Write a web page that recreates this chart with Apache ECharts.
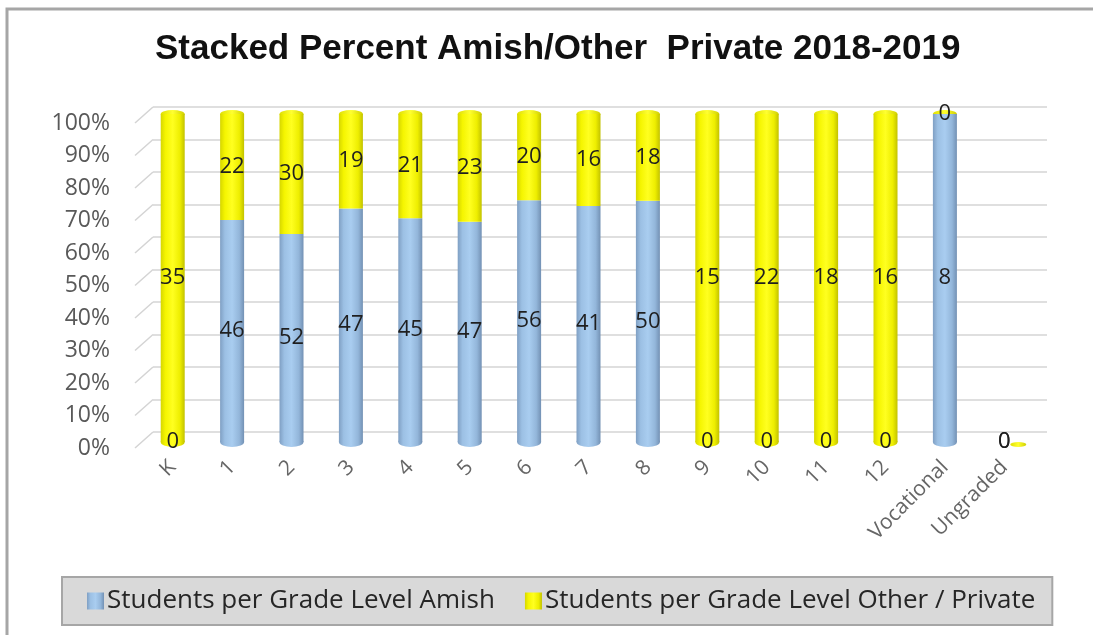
<!DOCTYPE html>
<html>
<head>
<meta charset="utf-8">
<script src="https://cdn.jsdelivr.net/npm/echarts@6/dist/echarts.min.js"></script>
<style>
  html, body { margin: 0; padding: 0; background: #fff; }
  #chart { width: 1093px; height: 635px; }
</style>
</head>
<body>
<div id="chart"></div>
<script>
// grade levels and head counts
const categories = ['K', '1', '2', '3', '4', '5', '6', '7', '8', '9', '10', '11', '12', 'Vocational', 'Ungraded'];
const amish = [0, 46, 52, 47, 45, 47, 56, 41, 50, 0, 0, 0, 0, 8, 0];
const other = [35, 22, 30, 19, 21, 23, 20, 16, 18, 15, 22, 18, 16, 0, 0];
const yTicks = [0, 10, 20, 30, 40, 50, 60, 70, 80, 90, 100];
const seriesNames = ['Students per Grade Level Amish', 'Students per Grade Level Other / Private'];

// stacked percent
const totals = amish.map((v, i) => v + other[i]);
const amishPct = amish.map((v, i) => totals[i] ? v / totals[i] * 100 : 0);
const otherPct = other.map((v, i) => totals[i] ? v / totals[i] * 100 : 0);
const capTop = totals.map(t => t ? 100 : 0);

const blueGrad = new echarts.graphic.LinearGradient(0, 0, 1, 0, [
  {offset: 0, color: '#7f9fc3'},
  {offset: 0.2, color: '#9cc0e4'},
  {offset: 0.5, color: '#a9cdf0'},
  {offset: 0.8, color: '#93b6da'},
  {offset: 1, color: '#7391b4'}
]);
const yellowGrad = new echarts.graphic.LinearGradient(0, 0, 1, 0, [
  {offset: 0, color: '#d6d600'},
  {offset: 0.2, color: '#f5f500'},
  {offset: 0.5, color: '#ffff20'},
  {offset: 0.8, color: '#eeee00'},
  {offset: 1, color: '#c2c200'}
]);
const capGrad = new echarts.graphic.LinearGradient(0, 0, 1, 0, [
  {offset: 0, color: '#e0e000'},
  {offset: 0.5, color: '#ffff30'},
  {offset: 1, color: '#d0d000'}
]);

const labelStyle = {
  show: true,
  position: 'inside',
  fontFamily: 'Open Sans',
  fontSize: 22,
  color: '#1f1f1f'
};

const chart = echarts.init(document.getElementById('chart'));

const option = {
  animation: false,
  backgroundColor: '#fff',
  title: {
    text: 'Stacked Percent Amish/Other  Private 2018-2019',
    left: 150,
    top: 27,
    textStyle: {
      fontFamily: 'Liberation Sans',
      fontWeight: 'bold',
      fontSize: 35,
      color: '#111'
    }
  },
  legend: {
    data: seriesNames,
    left: 62,
    top: 577,
    padding: [11, 17, 11, 25],
    itemGap: 30,
    itemWidth: 17,
    itemHeight: 17,
    icon: 'rect',
    backgroundColor: '#d9d9d9',
    borderColor: '#a6a6a6',
    borderWidth: 2,
    textStyle: {fontFamily: 'Open Sans', fontSize: 26, color: '#262626', padding: [0, 0, 0, -2]}
  },
  grid: [
    {left: 143, right: 59, top: 114, bottom: 193},
    {left: 153, right: 46, top: 107, bottom: 203},
    {left: 133, right: 59, top: 123, bottom: 187}
  ],
  xAxis: [
    {
      gridIndex: 0,
      type: 'category',
      data: categories,
      axisLine: {show: false},
      axisTick: {show: false},
      axisLabel: {
        rotate: 45,
        margin: 22,
        interval: 0,
        fontFamily: 'Open Sans',
        fontSize: 21,
        color: '#666'
      }
    },
    {gridIndex: 1, type: 'category', data: categories, show: false},
    {gridIndex: 2, type: 'category', data: categories, show: false}
  ],
  yAxis: [
    {gridIndex: 0, type: 'value', min: 0, max: 100, show: false},
    {
      gridIndex: 1, type: 'value', min: 0, max: 100, interval: 10,
      axisLabel: {show: false},
      axisLine: {show: false},
      axisTick: {show: false},
      splitLine: {lineStyle: {color: '#d4d4d4', width: 1.5}}
    },
    {
      gridIndex: 2, type: 'value', min: 0, max: 100, interval: 10,
      axisLine: {show: false},
      axisTick: {show: false},
      splitLine: {show: false},
      axisLabel: {
        formatter: '{value}%',
        margin: 23,
        fontFamily: 'Open Sans',
        fontSize: 23,
        color: '#595959'
      }
    }
  ],
  series: [
    {
      name: seriesNames[0],
      type: 'bar',
      stack: 'pct',
      barWidth: 24,
      z: 4,
      data: amishPct,
      itemStyle: {color: blueGrad},
      label: Object.assign({}, labelStyle, {formatter: p => amish[p.dataIndex]})
    },
    {
      name: seriesNames[1],
      type: 'bar',
      stack: 'pct',
      barWidth: 24,
      z: 4,
      data: otherPct,
      itemStyle: {color: yellowGrad},
      label: Object.assign({}, labelStyle, {formatter: p => other[p.dataIndex]})
    },
    {
      // top face of the cylinders
      type: 'pictorialBar',
      symbol: 'circle',
      symbolPosition: 'end',
      z: 3,
      silent: true,
      data: capTop.map(v => ({
        value: v,
        symbolSize: v ? [24, 8] : [16, 5],
        symbolOffset: v ? [0, '-50%'] : [14, 0]
      })),
      itemStyle: {color: capGrad}
    },
    {
      // rounded base
      type: 'pictorialBar',
      symbol: 'circle',
      symbolPosition: 'start',
      symbolOffset: [0, '50%'],
      z: 3,
      silent: true,
      data: amish.map((v, i) => ({
        value: capTop[i],
        symbolSize: capTop[i] ? [24, 10] : [0, 0],
        itemStyle: {color: v > 0 ? blueGrad : yellowGrad}
      }))
    }
  ]
};

chart.setOption(option);

// slanted floor-to-wall pieces of the gridlines at the left, taken from the two value axes
const slants = yTicks.map(v => {
  const yFront = chart.convertToPixel({yAxisIndex: 2}, v);
  const yBack = chart.convertToPixel({yAxisIndex: 1}, v);
  return {
    type: 'line',
    shape: {x1: 135, y1: yFront, x2: 153, y2: yBack},
    style: {stroke: '#d4d4d4', lineWidth: 1.5},
    silent: true
  };
});

chart.setOption({
  graphic: [{
    type: 'rect',
    shape: {x: 7, y: 9, width: 1200, height: 1000},
    style: {fill: null, stroke: '#a6a6a6', lineWidth: 3},
    silent: true
  }].concat(slants)
});
</script>
</body>
</html>
